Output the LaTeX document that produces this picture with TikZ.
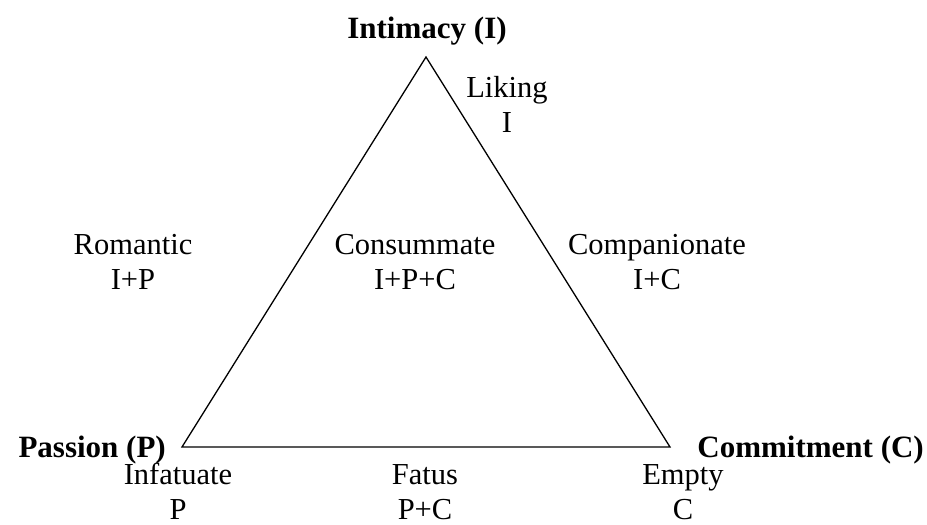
\documentclass[tikz,border=0pt]{standalone}
\usepackage{fontspec}
\setmainfont{Liberation Serif}
\usetikzlibrary{positioning}
\tikzset{
  kind/.style={align=center, font=\fontsize{30.5}{35}\selectfont, inner sep=0pt},
  corner/.style={font=\fontsize{31}{35}\selectfont\bfseries, inner sep=0pt}
}

\begin{document}
\begin{tikzpicture}[x=1pt,y=-1pt]

\useasboundingbox (0,0) rectangle (927,525);

%% triangle
\coordinate(I) at(426, 57);
\coordinate(P) at(182, 447);
\coordinate(C) at(670, 447);

\draw[line width=1.3pt, line join=miter] (I) -- (P) -- (C) -- cycle;

%% the three components
\node[corner, anchor=base] (IntimacyLbl) at(427, 38) {Intimacy (I)};
\node[corner, anchor=base east] (PassionLbl) at(166, 457) {Passion (P)};
\node[corner, anchor=base east] (CommitLbl) at(924, 457) {Commitment (C)};

%% kinds of love
\node[kind] (Liking) at(507, 104) {Liking\\I};
\node[kind] (Romantic) at(133, 262) {Romantic\\I+P};
\node[kind] (Consummate) at(415, 262) {Consummate\\I+P+C};
\node[kind] (Companionate) at(657, 262) {Companionate\\I+C};
\node[kind] (Infatuate) at(178, 491) {Infatuate\\P};
\node[kind] (Fatus) at(425, 492) {Fatus\\P+C};
\node[kind] (Empty) at(683, 492) {Empty\\C};

\end{tikzpicture}
\end{document}
